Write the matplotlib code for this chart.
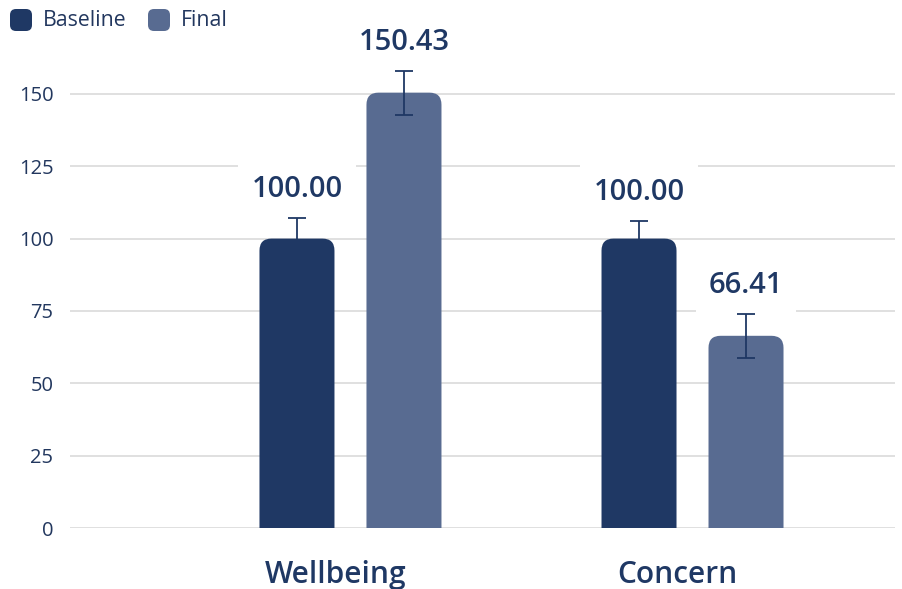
import matplotlib
matplotlib.use("Agg")
import matplotlib.pyplot as plt
from matplotlib.patches import FancyBboxPatch

# data
categories = ["Wellbeing", "Concern"]
series_names = ["Baseline", "Final"]
baseline_vals = [100.00, 100.00]
final_vals = [150.43, 66.41]
baseline_err = [7.2, 6.0]
final_err = [7.6, 7.6]

dark = "#1f3864"
light = "#586b91"
text_col = "#22375e"
grid_col = "#dddddd"

plt.rcParams["font.family"] = ["Open Sans", "DejaVu Sans"]

W, H = 903, 589
fig = plt.figure(figsize=(W / 100, H / 100), dpi=100)
ax_left, ax_right, ax_bottom, ax_top = 70, 895, 528, 36
ax = fig.add_axes([ax_left / W, (H - ax_bottom) / H,
                   (ax_right - ax_left) / W, (ax_bottom - ax_top) / H])

xmin, xmax = -0.820, 1.592
ymin, ymax = 0, 170
ax.set_xlim(xmin, xmax)
ax.set_ylim(ymin, ymax)

# pixel scales for rounded corners
px_x = (xmax - xmin) / (ax_right - ax_left)
px_y = (ymax - ymin) / (ax_bottom - ax_top)

bar_w = 75 * px_x
offset = 53.5 * px_x
radius = 12

for ax_y in [0, 25, 50, 75, 100, 125, 150]:
    ax.axhline(ax_y, color=grid_col, lw=1.3, zorder=0)

for i, cat in enumerate(categories):
    for vals, errs, col, sgn in [(baseline_vals, baseline_err, dark, -1),
                                 (final_vals, final_err, light, 1)]:
        xc = i + sgn * offset
        v = vals[i]
        patch = FancyBboxPatch((xc - bar_w / 2, -radius * px_y), bar_w,
                               v + radius * px_y,
                               boxstyle=f"round,pad=0,rounding_size={radius * px_x}",
                               mutation_aspect=px_y / px_x,
                               facecolor=col, edgecolor="none", zorder=2,
                               clip_on=True)
        ax.add_patch(patch)
        ax.errorbar(xc, v, yerr=errs[i], color=dark, lw=1.3, capsize=6.5,
                    capthick=1.3, zorder=5)
        ax.annotate(f"{v:.2f}", (xc, v + errs[i]), xytext=(0, 20.5),
                    textcoords="offset points", ha="center", va="center",
                    fontsize=21, fontweight="semibold", color=dark,
                    bbox=dict(boxstyle="square,pad=0.45", fc="white", ec="none"),
                    zorder=4, annotation_clip=False)

ax.set_xticks([i - 15 * px_x for i in range(len(categories))])
ax.set_xticklabels(categories, fontsize=21.5, fontweight="semibold", color=dark)
ax.tick_params(axis="x", length=0, pad=23)
ax.set_yticks([0, 25, 50, 75, 100, 125, 150])
ax.tick_params(axis="y", length=0, pad=12, labelsize=14.5, labelcolor=text_col)
for s in ax.spines.values():
    s.set_visible(False)

# legend
for (name, col, x0, tx) in [(series_names[0], dark, 10, 43), (series_names[1], light, 148, 181)]:
    box = FancyBboxPatch((x0 / W, (H - 31) / H), 22 / W, 22 / H,
                         boxstyle=f"round,pad=0,rounding_size={6 / W}",
                         mutation_aspect=W / H, transform=fig.transFigure,
                         facecolor=col, edgecolor="none")
    fig.patches.append(box)
    fig.text(tx / W, (H - 20) / H, name, fontsize=15.3, color=text_col,
             ha="left", va="center")

fig.savefig("out.png", dpi=100, facecolor="white")
